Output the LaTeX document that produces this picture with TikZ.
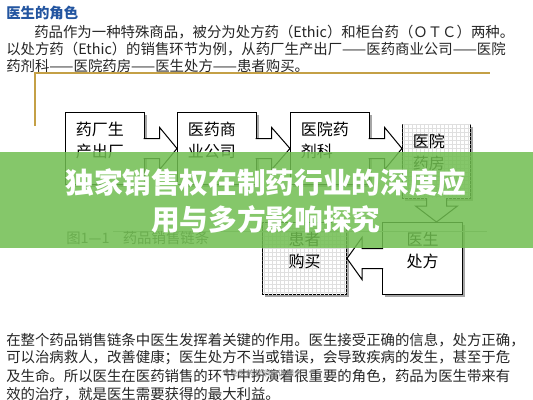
\documentclass[tikz,border=0pt]{standalone}
\usepackage{fontspec}
\setmainfont{Noto Sans CJK SC}
\usetikzlibrary{positioning}
\usetikzlibrary{calc}
\usetikzlibrary{shadows}
\usetikzlibrary{patterns}
\definecolor{headblue}{RGB}{35,85,160}
\definecolor{framegold}{RGB}{196,160,70}
\definecolor{bannergreen}{RGB}{112,190,80}
\tikzset{%
  chain box/.style={
    draw,
    fill=white,
    line width=0.75pt,
    anchor=north west,
    inner sep=0pt,
    minimum width=59pt,
    minimum height=54pt,
    drop shadow={shadow xshift=2pt, shadow yshift=-2pt, fill=gray!70, opacity=1}
  },
  grid box/.style={
    chain box,
    postaction={pattern=grid, pattern color=gray!25}
  },
  box text/.style={
    align=left,
    inner sep=0pt,
    font=\fontsize{12}{16.5}\selectfont
  },
  flow arrow/.style={
    draw,
    fill=white,
    line width=0.75pt,
    line join=miter
  },
  body text/.style={
    anchor=west,
    inner sep=0pt,
    text=black!85,
    font=\fontsize{10.8}{13}\selectfont
  },
  banner title/.style={
    inner sep=0pt,
    text=white,
    font=\bfseries\fontsize{21.5}{24}\selectfont
  },
}

\begin{document}
\begin{tikzpicture}[x=0.75pt, y=-0.75pt]

    \fill [white] (0,0) rectangle (533,400);
    \useasboundingbox (0,0) rectangle (533,400);

    % text above the figure
    \node [body text, text=headblue, font=\bfseries\fontsize{10.8}{13}\selectfont] (heading) at (6,13) {医生的角色};
    \node [body text] (intro-1) at (34,32) {药品作为一种特殊商品，被分为处方药（Ethic）和柜台药（ＯＴＣ）两种。};
    \node [body text] (intro-2) at (6,49) {以处方药（Ethic）的销售环节为例，从药厂生产出厂——医药商业公司——医院};
    \node [body text] (intro-3) at (6,66) {药剂科——医院药房——医生处方——患者购买。};

    \draw [framegold, line width=1.5pt] (35,126) -- (35,73) -- (490,73);

    % the chain
    \node [chain box] (factory) at (65,112) {};
    \node [chain box] (company) at (177,112) {};
    \node [chain box] (pharmacy) at (290,112) {};
    \node [grid box, minimum width=51pt, minimum height=55.5pt] (drugstore) at (402,124) {};
    \node [chain box, minimum width=60pt] (doctor) at (382,222) {};
    \node [grid box, minimum width=63pt] (patient) at (262,222) {};

    \foreach \n/\t in {factory/药厂生\\产出厂, company/医药商\\业公司, pharmacy/医院药\\剂科, drugstore/医院\\药房}
    \node [box text, below right=7pt and 8pt of \n.north west] (\n-text) {\t};

    \foreach \n/\t in {doctor/医生\\处方, patient/患者\\购买}
    \node [box text, align=center, below=7pt of \n.north] (\n-text) {\t};

    \foreach \a/\b in {factory/company, company/pharmacy, pharmacy/drugstore}
    \draw [flow arrow] ($(\a.east)+(-1,-10)$) -- ++(16,0) -- ++(0,-11)
        -- (\b.west |- \a.east) -- ($(\a.east)+(15,21)$) -- ++(0,-11)
        -- ($(\a.east)+(-1,10)$);

    \draw [flow arrow] ($(drugstore.south)+(-10,-1)$) -- ++(0,8) -- ++(-11,0)
        -- (drugstore.south |- doctor.north) -- ($(drugstore.south)+(21,7)$)
        -- ++(-11,0) -- ($(drugstore.south)+(10,-1)$);

    \draw [flow arrow] ($(doctor.west)+(1,-10)$) -- ++(-21,0) -- ++(0,-11)
        -- (patient.east) -- ($(doctor.west)+(-20,21)$) -- ++(0,-11)
        -- ($(doctor.west)+(1,10)$);

    \draw [gray!60, line width=0.6pt] (113,231) -- (487,231);
    \node [body text, text=black!70] (caption) at (66,238) {图1—1\hspace{10pt}药品销售链条};

    % text below the figure
    \foreach \l [count=\i from 0] in {%
        在整个药品销售链条中医生发挥着关键的作用。医生接受正确的信息，处方正确，,
        可以治病救人，改善健康；医生处方不当或错误，会导致疾病的发生，甚至于危,
        及生命。所以医生在医药销售的环节中扮演着很重要的角色，药品为医生带来有,
        效的治疗，就是医生需要获得的最大利益。}
    \node [body text] (closing-\i) at (6,340+18*\i) {\l};

    \node [inner sep=0pt, text=gray, font=\fontsize{6}{6}\selectfont] (watermark) at (262,373) {专业医药营销培训服务};

    % banner over the page
    \fill [bannergreen, fill opacity=0.85] (0,152) rectangle (533,248);
    \node [banner title] (title-1) at (266,183) {独家销售权在制药行业的深度应};
    \node [banner title] (title-2) at (266,219) {用与多方影响探究};

\end{tikzpicture}
\end{document}
